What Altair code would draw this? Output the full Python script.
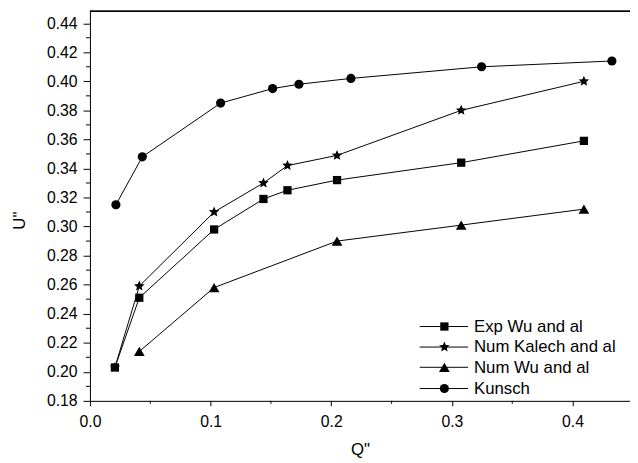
import altair as alt
import pandas as pd

# ---- data ----
series_names = ["Exp Wu and al", "Num Kalech and al", "Num Wu and al", "Kunsch"]

exp_wu_q = [0.0207, 0.0409, 0.1029, 0.1438, 0.1637, 0.2048, 0.3077, 0.4094]
exp_wu_u = [0.203, 0.251, 0.298, 0.319, 0.325, 0.332, 0.344, 0.359]

kalech_q = [0.0207, 0.0409, 0.1029, 0.1438, 0.1637, 0.2048, 0.3077, 0.4094]
kalech_u = [0.203, 0.259, 0.310, 0.330, 0.342, 0.349, 0.380, 0.400]

num_wu_q = [0.0409, 0.1029, 0.2048, 0.3077, 0.4094]
num_wu_u = [0.214, 0.258, 0.290, 0.301, 0.312]

kunsch_q = [0.0215, 0.0434, 0.1083, 0.1514, 0.1732, 0.2163, 0.3246, 0.4326]
kunsch_u = [0.315, 0.348, 0.385, 0.395, 0.398, 0.402, 0.410, 0.414]

y_ticks = [0.18, 0.20, 0.22, 0.24, 0.26, 0.28, 0.30, 0.32, 0.34, 0.36, 0.38, 0.40, 0.42, 0.44]
y_minor = [0.19, 0.21, 0.23, 0.25, 0.27, 0.29, 0.31, 0.33, 0.35, 0.37, 0.39, 0.41, 0.43]
x_ticks = [0.0, 0.1, 0.2, 0.3, 0.4]
x_minor = [0.05, 0.15, 0.25, 0.35]

# ---- styling ----
STAR = ("M0,-1L0.265,-0.364L0.951,-0.309L0.428,0.139L0.588,0.809L0,0.45"
        "L-0.588,0.809L-0.428,0.139L-0.951,-0.309L-0.265,-0.364Z")
shapes = ["square", STAR, "triangle-up", "circle"]
sizes = [70, 125, 118, 86]
FONT = "Liberation Sans"
W, H = 547, 395

frames = []
for name, q, u in [(series_names[0], exp_wu_q, exp_wu_u),
                   (series_names[1], kalech_q, kalech_u),
                   (series_names[2], num_wu_q, num_wu_u),
                   (series_names[3], kunsch_q, kunsch_u)]:
    frames.append(pd.DataFrame({"series": name, "Q": q, "U": u}))
df = pd.concat(frames, ignore_index=True)
df["order"] = df["series"].map({"Num Kalech and al": 0, "Exp Wu and al": 1,
                                "Num Wu and al": 2, "Kunsch": 3})

xscale = alt.Scale(domain=[0, 0.4476], nice=False, zero=False)
yscale = alt.Scale(domain=[0.18, 0.4485], nice=False, zero=False)

x_axis = alt.Axis(
    values=x_ticks, format=".1f", tickSize=5, labelPadding=8, grid=False,
    labelFlush=False, labelOverlap=False,
    labelFont=FONT, labelFontSize=16, labelColor="black",
    domainColor="black", tickColor="black", title='Q"',
    titleFont=FONT, titleFontSize=17, titleFontWeight="normal",
    titleColor="black", titlePadding=12)
y_axis = alt.Axis(
    values=y_ticks, format=".2f", tickSize=7, labelPadding=6, grid=False,
    labelFlush=False, labelOverlap=False,
    labelFont=FONT, labelFontSize=16, labelColor="black",
    domainColor="black", tickColor="black", title='U"',
    titleFont=FONT, titleFontSize=17, titleFontWeight="normal",
    titleColor="black", titleX=-71, titleY=212, titleBaseline="middle",
    titleAngle=270)

base = alt.Chart(df)
lines = base.mark_line(color="black", strokeWidth=1).encode(
    x=alt.X("Q:Q", scale=xscale, axis=x_axis),
    y=alt.Y("U:Q", scale=yscale, axis=y_axis),
    detail="series:N")
points = base.mark_point(filled=True, opacity=1, color="black").encode(
    x=alt.X("Q:Q", scale=xscale, axis=x_axis),
    y=alt.Y("U:Q", scale=yscale, axis=y_axis),
    shape=alt.Shape("series:N", scale=alt.Scale(domain=series_names, range=shapes), legend=None),
    size=alt.Size("series:N", scale=alt.Scale(type="ordinal", domain=series_names, range=sizes),
                  legend=None),
    order=alt.Order("order:Q"))

ymin_df = pd.DataFrame({"v": y_minor})
xmin_df = pd.DataFrame({"v": x_minor})
ymin = alt.Chart(ymin_df).mark_rule(color="black", strokeWidth=1).encode(
    y=alt.Y("v:Q", scale=yscale, axis=y_axis), x=alt.value(-4), x2=alt.value(0))
xmin = alt.Chart(xmin_df).mark_rule(color="black", strokeWidth=1).encode(
    x=alt.X("v:Q", scale=xscale, axis=x_axis), y=alt.value(H), y2=alt.value(H + 3))
top = alt.Chart(xmin_df).mark_rule(color="black", strokeWidth=1.5).encode(
    x=alt.value(0), x2=alt.value(W), y=alt.value(0.5))

layers = [lines, points, ymin, xmin, top]

# ---- legend built by hand (line through marker) ----
leg_marker_y = [319.7, 340.5, 361.0, 382.5]
leg_text_y = [324.8, 346.0, 367.0, 388.2]
for i, name in enumerate(series_names):
    one = pd.DataFrame({"label": [name]})
    layers.append(alt.Chart(one).mark_rule(color="black", strokeWidth=1).encode(
        x=alt.value(334), x2=alt.value(383), y=alt.value(leg_marker_y[i])))
    layers.append(alt.Chart(one).mark_point(filled=True, opacity=1, color="black").encode(
        x=alt.value(359), y=alt.value(leg_marker_y[i]),
        shape=alt.value(shapes[i]), size=alt.value(sizes[i])))
    layers.append(alt.Chart(one).mark_text(
        align="left", baseline="alphabetic", font=FONT, fontSize=17, color="black").encode(
        x=alt.value(389), y=alt.value(leg_text_y[i]), text="label:N"))

chart = alt.layer(*layers).properties(
    width=W, height=H,
    autosize=alt.AutoSizeParams(type="none"),
    padding={"left": 83, "top": 0, "right": 0, "bottom": 58},
).configure_view(stroke=None).configure(background="white")

chart.save("out.html", embed_options={"renderer": "svg", "actions": False})
